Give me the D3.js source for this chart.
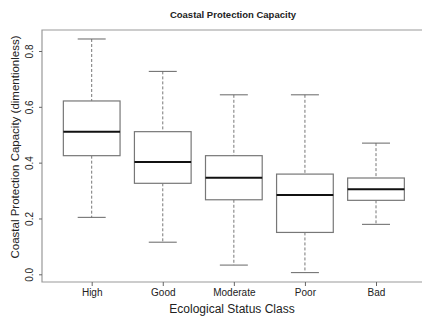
<!DOCTYPE html>
<html>
<head>
<meta charset="utf-8">
<script src="https://cdn.jsdelivr.net/npm/d3@7"></script>
<style>
  body { margin: 0; background: #fff; }
  text { font-family: "Liberation Sans", Arial, sans-serif; fill: #222; }
</style>
</head>
<body>
<svg width="422" height="317"></svg>
<script>
// ecological status classes and box stats
var classes = ["High", "Good", "Moderate", "Poor", "Bad"];
var whiskLo = [0.204, 0.115, 0.033, 0.006, 0.179];
var q1      = [0.425, 0.326, 0.267, 0.150, 0.265];
var median  = [0.511, 0.402, 0.346, 0.284, 0.305];
var q3      = [0.621, 0.511, 0.425, 0.359, 0.345];
var whiskHi = [0.843, 0.727, 0.643, 0.643, 0.470];
var yTicks  = [0.0, 0.2, 0.4, 0.6, 0.8];

var svg = d3.select("svg");
var plotL = 42, plotT = 30, plotB = 282, plotR = 447;

var x = d3.scalePoint()
    .domain(classes)
    .range([91.7, 376])
    .padding(0);

var y = d3.scaleLinear()
    .domain([0, 0.8])
    .range([274.3, 51]);

var boxW = 56.7, capW = 28;

var data = classes.map(function(c, i) {
  return {name: c, lo: whiskLo[i], q1: q1[i], med: median[i], q3: q3[i], hi: whiskHi[i]};
});

// frame (right side is cut off in the original)
svg.append("path")
    .attr("d", "M" + plotR + "," + plotT + "H" + plotL + "V" + plotB + "H" + plotR)
    .attr("fill", "none")
    .attr("stroke", "#999")
    .attr("stroke-width", 1.2);

var g = svg.append("g").selectAll("g")
    .data(data)
  .enter().append("g");

// whiskers
g.append("line")
    .attr("x1", function(d) { return x(d.name); })
    .attr("x2", function(d) { return x(d.name); })
    .attr("y1", function(d) { return y(d.hi); })
    .attr("y2", function(d) { return y(d.q3); })
    .attr("stroke", "#777").attr("stroke-dasharray", "3,2");
g.append("line")
    .attr("x1", function(d) { return x(d.name); })
    .attr("x2", function(d) { return x(d.name); })
    .attr("y1", function(d) { return y(d.q1); })
    .attr("y2", function(d) { return y(d.lo); })
    .attr("stroke", "#777").attr("stroke-dasharray", "3,2");
["hi", "lo"].forEach(function(k) {
  g.append("line")
      .attr("x1", function(d) { return x(d.name) - capW / 2; })
      .attr("x2", function(d) { return x(d.name) + capW / 2; })
      .attr("y1", function(d) { return y(d[k]); })
      .attr("y2", function(d) { return y(d[k]); })
      .attr("stroke", "#666");
});

// boxes
g.append("rect")
    .attr("x", function(d) { return x(d.name) - boxW / 2; })
    .attr("width", boxW)
    .attr("y", function(d) { return y(d.q3); })
    .attr("height", function(d) { return y(d.q1) - y(d.q3); })
    .attr("fill", "#fff")
    .attr("stroke", "#777")
    .attr("stroke-width", 1.2);

g.append("line")
    .attr("x1", function(d) { return x(d.name) - boxW / 2; })
    .attr("x2", function(d) { return x(d.name) + boxW / 2; })
    .attr("y1", function(d) { return y(d.med); })
    .attr("y2", function(d) { return y(d.med); })
    .attr("stroke", "#111")
    .attr("stroke-width", 2);

// y axis
var yAxis = svg.append("g")
    .attr("transform", "translate(" + plotL + ",0)")
    .call(d3.axisLeft(y).tickValues(yTicks).tickFormat(d3.format(".1f")).tickSize(3).tickSizeOuter(0));
yAxis.select(".domain").remove();
yAxis.selectAll(".tick line").attr("stroke", "#666");
yAxis.selectAll(".tick text")
    .attr("transform", "rotate(-90)")
    .attr("x", 0).attr("y", -9)
    .attr("dy", 0)
    .attr("text-anchor", "middle")
    .style("font-size", "10px")
    .style("font-family", "Liberation Sans, Arial, sans-serif")
    .attr("fill", "#222");

// x axis
var xAxis = svg.append("g")
    .attr("transform", "translate(0," + plotB + ")")
    .call(d3.axisBottom(x).tickSize(4).tickSizeOuter(0));
xAxis.select(".domain").remove();
xAxis.selectAll(".tick line").attr("stroke", "#666");
xAxis.selectAll(".tick text")
    .attr("y", 7)
    .style("font-size", "10px")
    .style("font-family", "Liberation Sans, Arial, sans-serif")
    .attr("fill", "#222");

// titles
svg.append("text")
    .attr("x", 233).attr("y", 18)
    .attr("text-anchor", "middle")
    .style("font-size", "9.5px")
    .style("font-weight", "bold")
    .text("Coastal Protection Capacity");

svg.append("text")
    .attr("x", 232).attr("y", 313)
    .attr("text-anchor", "middle")
    .style("font-size", "12px")
    .text("Ecological Status Class");

svg.append("text")
    .attr("transform", "translate(19,147) rotate(-90)")
    .attr("text-anchor", "middle")
    .style("font-size", "11.5px")
    .text("Coastal Protection Capacity (dimentionless)");
</script>
</body>
</html>
